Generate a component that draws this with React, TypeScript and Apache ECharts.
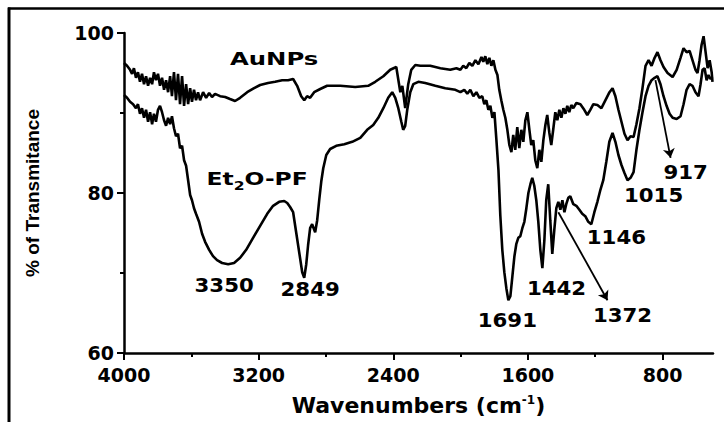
import React, { useEffect, useRef } from "react";
import * as echarts from "echarts";

const BOLD_FONT = '"DejaVu Sans", "Liberation Sans", Arial, sans-serif';
const TITLE_FONT = '"Liberation Sans", Arial, sans-serif';

// FTIR spectra: [wavenumber (cm-1), % transmittance]
const auNPs: [number, number][] = [
  [4000, 96.25], [3982, 95.9], [3964, 95.4], [3952, 94.9], [3941, 95.6], [3929, 94.4], [3917, 95.1],
  [3905, 93.9], [3893, 94.9], [3881, 93.6], [3869, 94.6], [3857, 93.4], [3845, 94.4], [3833, 93.6],
  [3822, 95.1], [3810, 94.1], [3798, 94.9], [3786, 93.4], [3774, 94.4], [3762, 92.9], [3750, 94.1],
  [3738, 92.6], [3726, 94.6], [3715, 92.1], [3703, 95.1], [3691, 91.6], [3679, 94.9], [3667, 91.1],
  [3655, 94.6], [3643, 90.9], [3631, 93.6], [3619, 91.1], [3607, 93.1], [3596, 91.4], [3584, 92.9],
  [3572, 91.6], [3560, 92.6], [3548, 91.6], [3530, 92.6], [3512, 91.9], [3494, 92.5], [3477, 92.0],
  [3459, 92.4], [3429, 92.1], [3399, 92.0], [3370, 91.75], [3340, 91.5], [3310, 91.9], [3268, 92.6],
  [3227, 93.1], [3191, 93.5], [3144, 93.75], [3102, 93.9], [3060, 94.1], [3025, 94.1], [2995, 94.25],
  [2971, 93.4], [2947, 92.1], [2929, 91.6], [2912, 92.1], [2894, 91.9], [2870, 92.6], [2834, 93.0],
  [2793, 93.4], [2715, 93.4], [2626, 93.25], [2549, 93.4], [2507, 93.9], [2459, 94.6], [2418, 95.4],
  [2382, 95.75], [2358, 92.6], [2346, 93.4], [2329, 90.6], [2311, 93.6], [2293, 95.4], [2269, 96.0],
  [2239, 95.9], [2180, 95.9], [2120, 95.6], [2061, 95.4], [2025, 95.6], [2001, 95.4], [1984, 95.9],
  [1966, 95.6], [1948, 96.25], [1930, 95.9], [1912, 96.6], [1894, 96.1], [1876, 97.0], [1865, 96.4],
  [1853, 97.1], [1841, 96.1], [1829, 96.9], [1817, 95.9], [1805, 96.6], [1793, 95.4], [1781, 94.75],
  [1770, 92.9], [1758, 91.6], [1746, 90.4], [1734, 89.4], [1722, 87.9], [1710, 86.0], [1698, 85.1],
  [1687, 87.25], [1675, 85.4], [1663, 88.25], [1651, 85.6], [1639, 87.9], [1627, 86.4], [1615, 89.1],
  [1603, 90.1], [1591, 87.9], [1580, 86.0], [1568, 86.6], [1556, 84.1], [1544, 83.1], [1532, 85.4],
  [1520, 83.9], [1508, 86.6], [1496, 88.5], [1485, 89.75], [1473, 87.6], [1461, 86.0], [1449, 88.0],
  [1437, 90.1], [1425, 89.1], [1413, 90.4], [1401, 89.4], [1389, 90.6], [1377, 89.9], [1366, 90.9],
  [1354, 90.1], [1342, 91.0], [1330, 90.6], [1312, 91.25], [1288, 91.1], [1265, 90.4], [1247, 89.75],
  [1229, 90.4], [1211, 91.1], [1187, 91.0], [1163, 90.6], [1139, 91.6], [1115, 92.6], [1097, 93.1],
  [1080, 92.1], [1062, 90.4], [1044, 88.9], [1026, 87.4], [1008, 86.6], [990, 87.1], [972, 87.0],
  [955, 88.6], [937, 90.6], [919, 93.1], [901, 95.9], [883, 96.6], [865, 95.9], [847, 96.9],
  [830, 97.6], [812, 96.6], [794, 95.75], [770, 95.0], [740, 94.5], [716, 95.4], [693, 96.9],
  [675, 98.1], [657, 97.6], [639, 97.75], [622, 96.6], [604, 95.4], [592, 95.0], [580, 96.6],
  [568, 98.5], [556, 99.6], [544, 97.6], [532, 95.6], [520, 96.6], [508, 95.1], [503, 93.9],
];

const et2oPF: [number, number][] = [
  [4000, 92.25], [3982, 91.9], [3964, 91.4], [3946, 91.1], [3929, 90.6], [3917, 91.1], [3905, 89.9],
  [3893, 90.6], [3881, 89.4], [3869, 90.4], [3857, 88.9], [3845, 90.1], [3833, 88.6], [3822, 89.9],
  [3810, 88.9], [3798, 90.4], [3786, 90.9], [3774, 90.1], [3762, 89.1], [3750, 88.4], [3738, 89.4],
  [3726, 88.6], [3715, 89.6], [3703, 88.1], [3691, 87.1], [3679, 87.4], [3667, 85.6], [3655, 85.9],
  [3643, 84.1], [3631, 83.4], [3619, 81.6], [3607, 79.75], [3596, 79.1], [3584, 78.1], [3572, 77.4],
  [3554, 76.4], [3536, 74.9], [3518, 73.9], [3494, 72.9], [3471, 72.1], [3447, 71.6], [3417, 71.25],
  [3381, 71.1], [3346, 71.25], [3310, 71.9], [3274, 72.9], [3233, 74.4], [3191, 75.9], [3149, 77.4],
  [3114, 78.4], [3078, 78.9], [3048, 79.0], [3030, 78.75], [3013, 78.25], [2995, 77.6], [2977, 75.1],
  [2959, 72.6], [2941, 70.1], [2929, 69.4], [2917, 71.1], [2906, 73.5], [2894, 75.6], [2882, 76.1],
  [2864, 75.1], [2852, 76.6], [2840, 79.1], [2828, 81.4], [2816, 83.1], [2798, 84.75], [2775, 85.5],
  [2739, 85.9], [2691, 86.1], [2644, 86.4], [2596, 86.9], [2555, 87.9], [2519, 88.5], [2489, 89.4],
  [2459, 90.6], [2430, 91.9], [2406, 92.6], [2388, 91.9], [2370, 90.6], [2352, 88.9], [2341, 87.9],
  [2329, 88.4], [2317, 90.4], [2299, 92.6], [2281, 93.6], [2251, 93.9], [2210, 93.75], [2150, 93.4],
  [2091, 93.1], [2031, 92.9], [2001, 92.6], [1978, 92.9], [1960, 92.4], [1942, 92.9], [1924, 92.1],
  [1906, 92.6], [1888, 91.9], [1871, 92.1], [1859, 91.1], [1847, 91.6], [1835, 90.4], [1823, 90.9],
  [1811, 89.4], [1799, 90.1], [1787, 86.6], [1775, 82.9], [1764, 77.25], [1752, 72.9], [1740, 70.1],
  [1728, 68.1], [1716, 66.6], [1704, 67.1], [1692, 69.6], [1680, 72.1], [1669, 73.6], [1657, 74.4],
  [1645, 74.6], [1633, 75.6], [1621, 76.4], [1609, 78.1], [1597, 80.0], [1585, 81.1], [1574, 81.9],
  [1562, 80.9], [1550, 79.1], [1538, 76.4], [1526, 72.9], [1514, 70.6], [1502, 74.1], [1491, 79.1],
  [1479, 81.1], [1467, 76.6], [1455, 72.4], [1443, 75.4], [1431, 78.1], [1419, 78.9], [1407, 77.9],
  [1395, 79.1], [1383, 77.6], [1372, 78.6], [1360, 79.4], [1348, 79.6], [1330, 78.6], [1312, 78.4],
  [1294, 77.9], [1277, 77.4], [1259, 77.1], [1241, 76.4], [1223, 76.1], [1205, 77.6], [1187, 78.9],
  [1169, 80.4], [1152, 81.6], [1134, 83.9], [1116, 86.4], [1097, 87.5], [1080, 86.4], [1062, 84.75],
  [1044, 83.5], [1026, 82.5], [1008, 81.6], [990, 81.9], [972, 82.6], [955, 85.4], [937, 87.9],
  [919, 90.1], [901, 92.1], [883, 93.4], [865, 94.1], [847, 94.4], [830, 94.6], [812, 93.6],
  [794, 92.1], [776, 90.9], [758, 89.9], [740, 89.4], [716, 89.25], [693, 89.6], [675, 91.1],
  [657, 92.9], [639, 93.6], [622, 93.4], [604, 92.6], [586, 92.1], [574, 93.6], [562, 95.4],
  [550, 95.6], [538, 94.1], [527, 94.75], [515, 94.25], [503, 94.5],
];

const majorTickValues = [4000, 3200, 2400, 1600, 800];
const minorTickValues = [3600, 2800, 2000, 1200];

// Peak annotations: [text, wavenumber, transmittance] (text centre)
const peakLabels: [string, number, number][] = [
  ["3350", 3405, 68.5],
  ["2849", 2894, 67.9],
  ["1691", 1722, 64.1],
  ["1442", 1430, 68.1],
  ["1372", 1038, 64.75],
  ["1146", 1074, 74.5],
  ["1015", 853, 79.75],
  ["917", 663, 82.6],
];

// Series names placed inside the plot: [wavenumber, transmittance]
const auNPsLabelAt: [number, number] = [3108, 96.75];
const et2oLabelAt: [number, number] = [3209, 81.75];

// Pointer arrows: from [wn, T] to [wn, T]
const arrowLines: [[number, number], [number, number]][] = [
  [[842, 94.1], [752, 84.4]],
  [[1419, 77.6], [1127, 66.6]],
];

export default function App() {
  const ref = useRef<HTMLDivElement>(null);

  useEffect(() => {
    if (!ref.current) return;
    const chart = echarts.init(ref.current, null, { renderer: "svg" });

    const lineStyle = { color: "#000", width: 2.6 };
    const tickLabel = {
      fontFamily: BOLD_FONT,
      fontWeight: "bold" as const,
      fontSize: 19,
      color: "#000",
      formatter: (v: number) => String(v),
    };

    chart.setOption({
      animation: false,
      backgroundColor: "#fff",
      grid: { left: 124, right: 11, top: 33, bottom: 69 },
      xAxis: [
        {
          type: "value",
          min: 500,
          max: 4000,
          inverse: true,
          position: "bottom",
          splitLine: { show: false },
          axisLine: { show: true, lineStyle: { color: "#000", width: 2.5 } },
          axisTick: {
            show: true,
            customValues: majorTickValues,
            length: 7,
            lineStyle: { color: "#000", width: 2 },
          },
          axisLabel: { ...tickLabel, customValues: majorTickValues, margin: 12 },
          name: "{m|Wavenumbers (cm}{p|-1}{m|)}",
          nameLocation: "middle",
          nameGap: 41,
          nameTextStyle: {
            rich: {
              m: { fontFamily: BOLD_FONT, fontWeight: "bold", fontSize: 22, color: "#000" },
              p: {
                fontFamily: BOLD_FONT,
                fontWeight: "bold",
                fontSize: 12,
                color: "#000",
                padding: [0, 0, 10, 0],
              },
            },
          },
        },
        {
          type: "value",
          min: 500,
          max: 4000,
          inverse: true,
          position: "bottom",
          splitLine: { show: false },
          axisLine: { show: false },
          axisTick: {
            show: true,
            customValues: minorTickValues,
            length: 4,
            lineStyle: { color: "#000", width: 2 },
          },
          axisLabel: { show: false },
        },
      ],
      yAxis: {
        type: "value",
        min: 60,
        max: 100,
        interval: 20,
        splitLine: { show: false },
        axisLine: { show: true, lineStyle: { color: "#000", width: 2.5 } },
        axisTick: { show: true, length: 7, lineStyle: { color: "#000", width: 2 } },
        minorTick: { show: true, splitNumber: 2, length: 4, lineStyle: { color: "#000", width: 2 } },
        axisLabel: { ...tickLabel, margin: 10 },
        name: "% of Transmitance",
        nameLocation: "middle",
        nameGap: 82,
        nameRotate: 90,
        nameTextStyle: {
          fontFamily: TITLE_FONT,
          fontWeight: "bold",
          fontSize: 19,
          color: "#000",
        },
      },
      series: [
        {
          name: "AuNPs",
          type: "line",
          xAxisIndex: 0,
          data: auNPs,
          showSymbol: false,
          symbol: "none",
          lineStyle,
        },
        {
          name: "Et2O-PF",
          type: "line",
          xAxisIndex: 0,
          data: et2oPF,
          showSymbol: false,
          symbol: "none",
          lineStyle,
          markLine: {
            silent: true,
            symbol: ["none", "arrow"],
            symbolSize: 9,
            label: { show: false },
            lineStyle: { color: "#000", width: 1.8, type: "solid" },
            data: arrowLines.map(([a, b]) => [{ coord: a }, { coord: b }]),
          },
        },
      ],
    });

    const toPx = (p: [number, number]) =>
      chart.convertToPixel({ xAxisIndex: 0, yAxisIndex: 0 }, p) as number[];

    const textStyle = (text: string, size: number) => ({
      text,
      x: 0,
      y: 0,
      fill: "#000",
      font: `bold ${size}px ${BOLD_FONT}`,
      align: "center",
      verticalAlign: "middle",
      textAlign: "center",
      textVerticalAlign: "middle",
    });

    const labels = peakLabels.map(([text, wn, t]) => {
      const [x, y] = toPx([wn, t]);
      return { type: "text", x, y, scaleX: 1.12, silent: true, style: textStyle(text, 19) };
    });

    const [ax, ay] = toPx(auNPsLabelAt);
    const [ex, ey] = toPx(et2oLabelAt);

    chart.setOption({
      graphic: [
        // frame around the figure
        {
          type: "line",
          silent: true,
          shape: { x1: 8, y1: 8.5, x2: 724, y2: 8.5 },
          style: { stroke: "#000", lineWidth: 2.5 },
        },
        {
          type: "line",
          silent: true,
          shape: { x1: 9, y1: 7.5, x2: 9, y2: 422 },
          style: { stroke: "#000", lineWidth: 3 },
        },
        ...labels,
        { type: "text", x: ax, y: ay, scaleX: 1.35, silent: true, style: textStyle("AuNPs", 18) },
        {
          type: "text",
          x: ex,
          y: ey,
          scaleX: 1.3,
          silent: true,
          style: {
            ...textStyle("{m|Et}{s|2}{m|O-PF}", 18),
            rich: {
              m: { fontFamily: BOLD_FONT, fontWeight: "bold", fontSize: 18, fill: "#000" },
              s: {
                fontFamily: BOLD_FONT,
                fontWeight: "bold",
                fontSize: 12,
                fill: "#000",
                padding: [14, 0, 0, 0],
              },
            },
          },
        },
      ],
    });

    return () => chart.dispose();
  }, []);

  return (
    <div
      ref={ref}
      style={{ position: "fixed", left: 0, top: 0, width: 724, height: 422, background: "#fff" }}
    />
  );
}
